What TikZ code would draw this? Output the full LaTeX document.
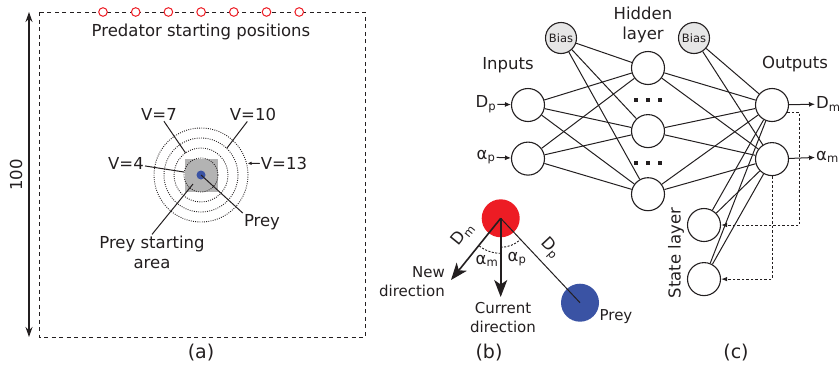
\documentclass[tikz,border=0pt]{standalone}
\usepackage{fontspec}
\setmainfont{DejaVu Sans}
\usetikzlibrary{arrows.meta, positioning, calc, backgrounds}
\usepackage{xcolor}
\definecolor{ppred}{HTML}{ED1C24}
\definecolor{ppblue}{HTML}{3A53A4}
\definecolor{pparea}{HTML}{B3B3B3}
\definecolor{ppbias}{HTML}{E6E6E6}
\definecolor{ppink}{HTML}{231F20}

\begin{document}
\begin{tikzpicture}[
    x=1pt, y=1pt,
    every node/.style={align=center, inner sep=1pt, text=ppink,
        font=\fontsize{16.5}{20}\selectfont},
    pp-small/.style={font=\fontsize{15}{19}\selectfont},
    pp-panel/.style={font=\fontsize{19}{22}\selectfont},
    pp-frame/.style={draw=ppink, line width=1pt, dash pattern=on 4pt off 3.5pt},
    pp-dim/.style={{Stealth[length=10pt, width=7pt]}-{Stealth[length=10pt, width=7pt]}, line width=1.2pt, draw=ppink},
    pp-start/.style={circle, draw=ppred, fill=white, line width=1pt,
        minimum size=8.6pt, inner sep=0pt},
    pp-area/.style={rectangle, fill=pparea, minimum size=33pt, inner sep=0pt},
    pp-ring/.style={draw=ppink, line width=0.9pt, dash pattern=on 0.9pt off 1.3pt},
    pp-dot/.style={circle, fill=ppblue, minimum size=9pt, inner sep=0pt},
    pp-lbl-line/.style={draw=ppink, line width=1pt},
    pp-lbl-arrow/.style={-{Latex[length=4pt, width=3.5pt]}, draw=ppink, line width=1pt},
    pp-agent/.style={circle, minimum size=38pt, inner sep=0pt},
    pp-dir/.style={-{Stealth[length=17pt, width=13pt, inset=4.5pt]}, line width=1.6pt, draw=ppink},
    pp-arc/.style={draw=ppink, line width=0.9pt, dash pattern=on 2pt off 1.5pt},
    pp-neuron/.style={circle, draw=ppink, line width=1.1pt, fill=white,
        minimum size=33pt, inner sep=0pt},
    pp-bias/.style={circle, draw=ppink, line width=1.1pt, fill=ppbias,
        minimum size=31pt, inner sep=0pt, font=\fontsize{11.5}{13}\selectfont},
    pp-link/.style={draw=ppink, line width=1pt},
    pp-io/.style={-{Latex[length=6pt, width=5pt]}, draw=ppink, line width=1pt},
    pp-fb/.style={-{Latex[length=6pt, width=4.5pt]}, draw=ppink, line width=1pt,
        dash pattern=on 2.5pt off 2pt},
]
    \useasboundingbox (0,0) rectangle (840,-370);

    % ---- PANEL (a): arena ----
    \coordinate (arena-nw) at (39,-12);
    \coordinate (arena-se) at (365,-337);
    \draw[pp-frame] (arena-nw) rectangle (arena-se);

    \coordinate (side-top) at (29,-12);
    \coordinate (side-bot) at (29,-337);
    \draw[pp-dim] (side-top) -- (side-bot);
    \node[rotate=90] (side-len) at (16,-175) {100};

    \foreach \i in {0,...,6}
        \node[pp-start] (start\i) at ({103+32.7*\i},-12) {};
    \node (start-lbl) at (201,-32) {Predator starting positions};

    \coordinate (prey-ctr) at (201,-175);
    \node[pp-area] (prey-area) at (prey-ctr) {};
    \foreach \r in {17,27,37,47}
        \draw[pp-ring] (prey-ctr) circle (\r);
    \node[pp-dot] (prey-dot) at (prey-ctr) {};

    % ring labels
    \node (v4)  at (126,-163) {V=4};
    \node (v7)  at (159,-114) {V=7};
    \node (v10) at (253,-114) {V=10};
    \node (v13) at (284,-163) {V=13};
    \draw[pp-lbl-line]  (v4)  -- ($(prey-ctr)+(170:17)$);
    \draw[pp-lbl-line]  (v7)  -- ($(prey-ctr)+(125:27)$);
    \draw[pp-lbl-line]  (v10) -- ($(prey-ctr)+(46:37)$);
    \draw[pp-lbl-arrow] (v13) -- ($(prey-ctr)+(14:48)$);

    \node (prey-lbl) at (262,-222) {Prey};
    \draw[pp-lbl-line] (prey-lbl.north west) -- (prey-dot.center);
    \node (area-lbl) at (152,-252) {Prey starting\\area};
    \draw[pp-lbl-line] (area-lbl.north) -- ($(prey-ctr)+(-8,-9)$);

    \node[pp-panel] (a-lbl) at (201,-353) {(a)};

    % ---- PANEL (b): predator heading ----
    \node[pp-agent, fill=ppred] (pred-b) at (500.7,-218.3) {};
    \node[pp-agent, fill=ppblue] (prey-b) at (580,-302.7) {};
    \coordinate (new-dir) at (451,-280);
    \coordinate (cur-dir) at (500.7,-297);

    \draw[pp-link] (pred-b.center) -- (prey-b.center);
    \draw[pp-dir] (pred-b.center) -- (new-dir);
    \draw[pp-dir] (pred-b.center) -- (cur-dir);
    \draw[pp-arc] ($(pred-b.center)+(-90:35)$) arc[start angle=-90, end angle=-129, radius=35];
    \draw[pp-arc] ($(pred-b.center)+(-90:29)$) arc[start angle=-90, end angle=-47, radius=29];

    \node[rotate=51, inner sep=0pt] (dm-b) at (463,-234) {D\textsubscript{m}};
    \node[rotate=-47, inner sep=0pt] (dp-b) at (550,-249) {D\textsubscript{p}};
    \node (am-b) at (487,-261) {α\textsubscript{m}};
    \node (ap-b) at (517,-259) {α\textsubscript{p}};
    \node[pp-small, align=right, anchor=east] (new-lbl) at (446,-282) {New\\direction};
    \node[pp-small] (cur-lbl) at (503,-318) {Current\\direction};
    \node[pp-small] (preyb-lbl) at (616,-317) {Prey};

    \node[pp-panel] (b-lbl) at (489,-353) {(b)};

    % ---- PANEL (c): network ----
    \node[pp-neuron] (in-d) at (528,-105) {};
    \node[pp-neuron, below=19.5pt of in-d] (in-a) {};
    \node[pp-neuron] (hid-1) at (648,-68) {};
    \node[pp-neuron, below=29pt of hid-1] (hid-2) {};
    \node[pp-neuron, below=29pt of hid-2] (hid-3) {};
    \node[pp-bias] (bias-1) at (561,-38) {Bias};
    \node[pp-bias] (bias-2) at (694,-38) {Bias};
    \node[pp-neuron] (out-d) at (772,-105) {};
    \node[pp-neuron, below=20pt of out-d] (out-a) {};
    \node[pp-neuron] (st-1) at (704,-225) {};
    \node[pp-neuron, below=20pt of st-1] (st-2) {};

    \begin{scope}[on background layer]
        \foreach \src in {in-d,in-a,bias-1}
            \foreach \dst in {hid-1,hid-2,hid-3}
                \draw[pp-link] (\src) -- (\dst);
        \foreach \src in {hid-1,hid-2,hid-3,bias-2,st-1,st-2}
            \foreach \dst in {out-d,out-a}
                \draw[pp-link] (\src) -- (\dst);
    \end{scope}

    % omitted hidden units
    \foreach \dx in {-12,0,12} {
        \fill[ppink] ($(hid-1)!0.5!(hid-2)+(\dx,0)$) ++(-2,-2) rectangle ++(4,4);
        \fill[ppink] ($(hid-2)!0.5!(hid-3)+(\dx,0)$) ++(-2,-2) rectangle ++(4,4);
    }

    \node (inputs-lbl) at (508,-65) {Inputs};
    \node (hidden-lbl) at (643,-25) {Hidden\\layer};
    \node (outputs-lbl) at (795,-64) {Outputs};
    \node[rotate=90] (state-lbl) at (676,-253) {State layer};

    \node (dp-lbl) at (486,-104) {D\textsubscript{p}};
    \node (ap-lbl) at (486,-157) {α\textsubscript{p}};
    \draw[pp-io] (dp-lbl) -- (in-d);
    \draw[pp-io] (ap-lbl) -- (in-a);
    \node[anchor=west] (dm-lbl) at (815,-104) {D\textsubscript{m}};
    \node[anchor=west] (am-lbl) at (815,-157) {α\textsubscript{m}};
    \draw[pp-io] (out-d) -- (dm-lbl);
    \draw[pp-io] (out-a) -- (am-lbl);

    % recurrent copies
    \draw[pp-fb] (out-d.-25) -- ++(12,0) |- (st-1);
    \draw[pp-fb] (out-a.south) |- (st-2);

    \node[pp-panel] (c-lbl) at (736,-353) {(c)};
\end{tikzpicture}
\end{document}
